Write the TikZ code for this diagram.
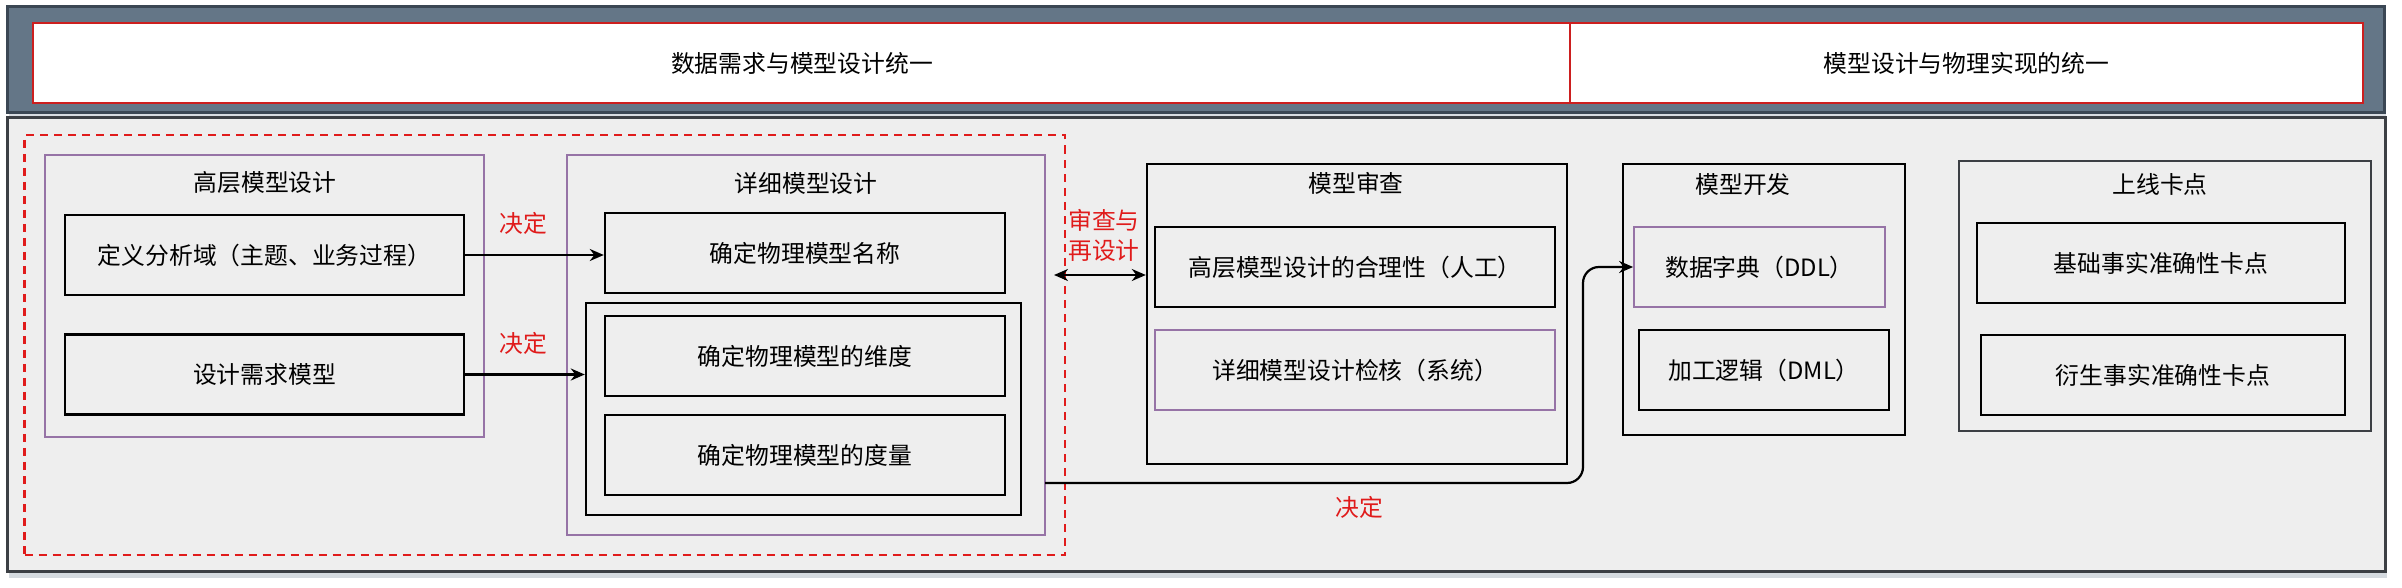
\documentclass[tikz,border=0pt]{standalone}
\usepackage{fontspec}
\setmainfont{Noto Sans CJK SC}
\usetikzlibrary{arrows.meta,shadows}
\definecolor{slate}{HTML}{647687}
\definecolor{slatedark}{HTML}{3B4754}
\definecolor{hdred}{HTML}{CC1F1F}
\definecolor{lilac}{HTML}{9673A6}
\definecolor{panel}{HTML}{EEEEEE}
\definecolor{paneledge}{HTML}{3C3F44}
\definecolor{lbred}{HTML}{E01B1B}

\begin{document}
\begin{tikzpicture}[x=0.5pt, y=-0.5pt,
    every node/.style={font=\fontsize{11.9}{15}\selectfont, inner sep=0pt},
    box/.style={draw=black, line width=1.2pt, minimum width=#1, minimum height=40pt},
    pbox/.style={draw=lilac, line width=0.9pt, minimum width=#1, minimum height=40pt},
    head/.style={draw=hdred, fill=white, line width=1.4pt, minimum width=#1, minimum height=40pt},
    lab/.style={text=lbred, align=center},
    arr/.style={line width=1.1pt, -{Stealth[length=7pt,width=6pt]}}]
  \useasboundingbox (0,0) rectangle (2402,588);
  % top band
  \node[draw=slatedark, fill=slate, line width=1.5pt, minimum width=1188.5pt, minimum height=53pt,
        drop shadow={shadow xshift=1pt, shadow yshift=-2pt, fill=slate!50, opacity=.5}] (band) at (1195.5,60) {};
  \node[head=769pt] (unify1) at (802,63) {数据需求与模型设计统一};
  \node[head=396.5pt] (unify2) at (1966.5,63) {模型设计与物理实现的统一};
  % main panel
  \node[draw=paneledge, fill=panel, line width=1.5pt, minimum width=1189pt, minimum height=226.5pt,
        drop shadow={shadow xshift=1pt, shadow yshift=-3.5pt, fill=slate!60, opacity=.45}] (panel) at (1196,344.5) {};
  \node[draw=lbred, dashed, dash pattern=on 4pt off 3pt, line width=1.2pt, minimum width=520.25pt, minimum height=210pt] (design) at (544.75,345) {};

  % high level design
  \node[draw=lilac, line width=0.9pt, minimum width=219.5pt, minimum height=141pt] (high) at (264.5,296) {};
  \node (hightitle) at (265,183) {高层模型设计};
  \node[box=199.5pt] (dom) at (264.5,255) {定义分析域（主题、业务过程）};
  \node[box=199.5pt] (req) at (264.5,374.5) {设计需求模型};

  % detailed design
  \node[draw=lilac, line width=0.9pt, minimum width=239pt, minimum height=190pt] (detail) at (806,345) {};
  \node (detailtitle) at (806,183) {详细模型设计};
  \node[box=200pt] (name) at (805,253) {确定物理模型名称};
  \node[box=217.5pt, minimum height=106pt] (grp) at (803.5,409) {};
  \node[box=200pt] (dim) at (805,356) {确定物理模型的维度};
  \node[box=200pt] (msr) at (805,455) {确定物理模型的度量};

  % review
  \node[box=210pt, minimum height=150pt] (review) at (1357,314) {};
  \node (reviewtitle) at (1356,183) {模型审查};
  \node[box=200pt] (sane) at (1355,267) {高层模型设计的合理性（人工）};
  \node[pbox=200pt] (check) at (1355,370) {详细模型设计检核（系统）};

  % development
  \node[box=141pt, minimum height=135.5pt] (dev) at (1764,299.5) {};
  \node (devtitle) at (1743,184) {模型开发};
  \node[pbox=125.5pt] (ddl) at (1759.5,267) {数据字典（DDL）};
  \node[box=125pt] (dml) at (1764,370) {加工逻辑（DML）};

  % release gate
  \node[draw=paneledge, line width=1pt, minimum width=206pt, minimum height=135pt] (gate) at (2165,296) {};
  \node (gatetitle) at (2160,184) {上线卡点};
  \node[box=184pt] (base) at (2161,263) {基础事实准确性卡点};
  \node[box=182pt] (deriv) at (2163,375) {衍生事实准确性卡点};

  % connectors
  \draw[arr] (dom.east) -- (dom.east -| name.west);
  \draw[arr] (req.east) -- (req.east -| grp.west);
  \node[lab] (dec1) at (523,223) {决定};
  \node[lab] (dec2) at (523,343) {决定};
  \coordinate (loop) at (1054,275);
  \draw[line width=1.1pt, {Stealth[length=7pt,width=6pt]}-{Stealth[length=7pt,width=6pt]}] (loop) -- (loop -| review.west);
  \node[lab] (redo) at (1104,235) {审查与\\再设计};
  \coordinate (out) at (1045,483);
  \draw[arr, rounded corners=8pt] (out) -- (1583,483) -- (1583,267) -- (ddl.west);
  \node[lab] (dec3) at (1359,507) {决定};
\end{tikzpicture}
\end{document}
